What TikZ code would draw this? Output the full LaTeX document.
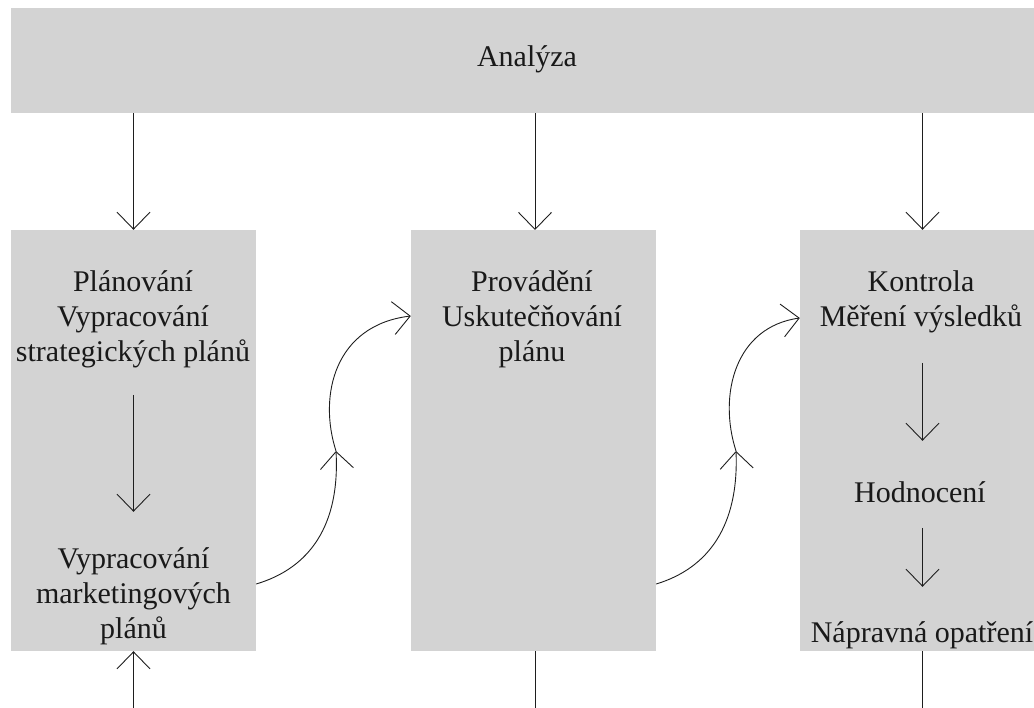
\documentclass[tikz,border=0pt]{standalone}
\usepackage{fontspec}
\setmainfont{Liberation Serif}
\usetikzlibrary{arrows.meta,calc}
\definecolor{boxgray}{RGB}{211,211,211}
\definecolor{inkgray}{RGB}{30,30,30}
\begin{document}
\begin{tikzpicture}[x=1pt,y=-1pt,
  box/.style={fill=boxgray,draw=none,inner sep=0pt},
  lbl/.style={font=\fontsize{30}{35}\selectfont,align=center,inner sep=0pt,anchor=base,text=black!90},
  arr/.style={draw=inkgray,line width=0.9pt,-{Straight Barb[length=17pt,width=33pt,line width=0.9pt]}},
  ln/.style={draw=inkgray,line width=0.9pt}]
\useasboundingbox (0,0) rectangle (1034,708);
% boxes
\node[box,minimum width=1048pt,minimum height=105pt] (an) at (535,60.5) {};
\node[box,minimum width=245pt,minimum height=421pt] (pl) at (133.5,440.5) {};
\node[box,minimum width=245pt,minimum height=421pt] (pr) at (533.5,440.5) {};
\node[box,minimum width=245pt,minimum height=421pt] (ko) at (922.5,440.5) {};
% texts (base = baseline of the last line)
\node[lbl] (t0) at (527,67) {Analýza};
\node[lbl] (t1) at (133,362) {Plánování\\Vypracování\\strategických plánů};
\node[lbl] (t2) at (133.5,638) {Vypracování\\marketingových\\plánů};
\node[lbl] (t3) at (532,362) {Provádění\\Uskutečňování\\plánu};
\node[lbl] (t4) at (921,327) {Kontrola\\Měření výsledků};
\node[lbl] (t5) at (920,502) {Hodnocení};
\node[lbl] (t6) at (922,642) {Nápravná opatření};
% free ends
\coordinate (m1) at (336,451);
\coordinate (m2) at (736,451);
\coordinate (e1) at (133.5,712);
\coordinate (e2) at (535,712);
\coordinate (e3) at (922,712);
% top arrows
\draw[arr] (an.south -| pl.north) -- (pl.north);
\draw[arr] (an.south -| 535,0) -- (535,230);
\draw[arr] (an.south -| ko.north) -- (ko.north);
% inner arrows
\draw[arr] ([yshift=-165pt]pl.north) -- ([yshift=-282pt]pl.north);
\draw[arr] ([yshift=-133pt]ko.north) -- ([yshift=-211pt]ko.north);
\draw[arr] ([yshift=-298pt]ko.north) -- ([yshift=-357pt]ko.north);
% bottom
\draw[arr] (e1) -- (pl.south);
\draw[ln] (pr.south -| e2) -- (e2);
\draw[ln] (ko.south -| e3) -- (e3);
% curved arrows
\draw[arr] ([yshift=-143.5pt]pl.east) .. controls (310,568) and (340,525) .. (m1);
\draw[arr] (m1) .. controls (318,395) and (335,325) .. ([yshift=124.5pt]pr.west);
\draw[arr] ([yshift=-143.5pt]pr.east) .. controls (709,568) and (739,525) .. (m2);
\draw[arr] (m2) .. controls (718,395) and (735,327) .. ([yshift=122.5pt]ko.west);
\end{tikzpicture}
\end{document}
